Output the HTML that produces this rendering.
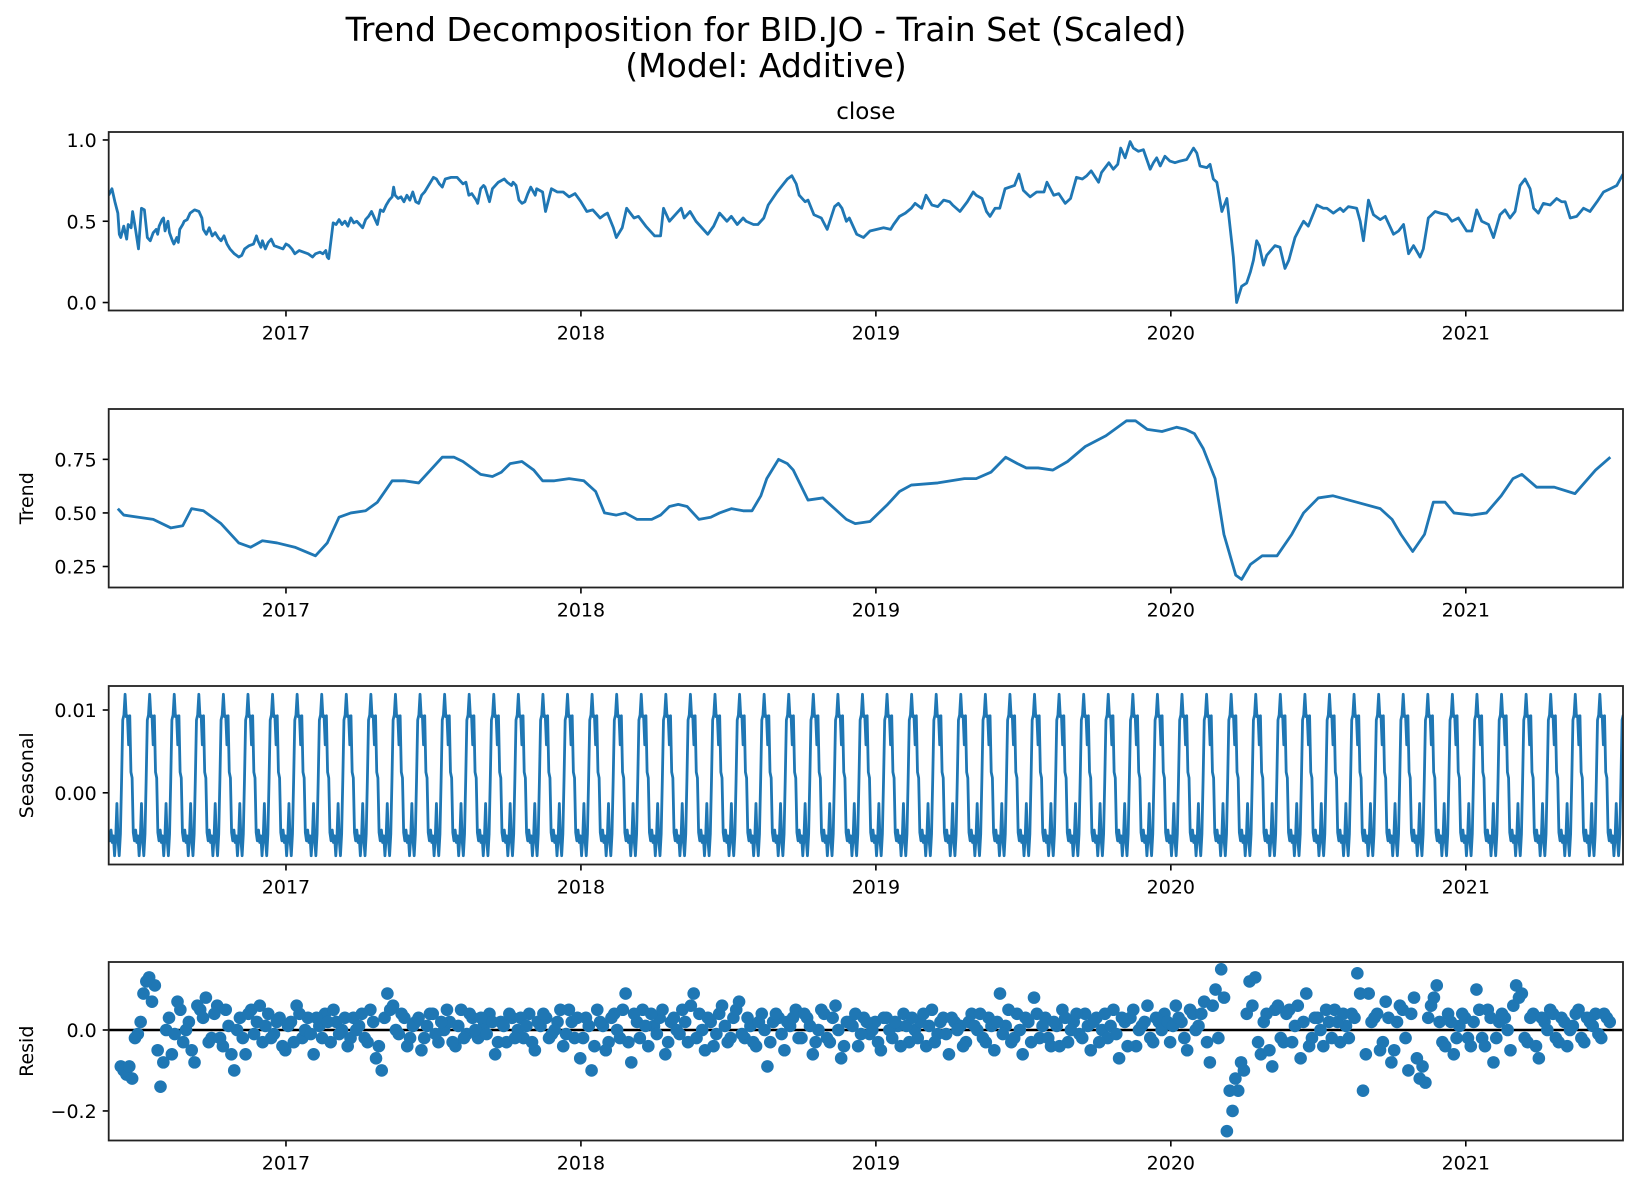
<!DOCTYPE html>
<html><head><meta charset="utf-8">
<style>
html,body{margin:0;padding:0;background:#fff;}
svg{display:block;font-family:"DejaVu Sans","Liberation Sans",sans-serif;}
</style></head>
<body>
<svg id="fig" width="1637" height="1191" viewBox="0 0 1637 1191" xmlns="http://www.w3.org/2000/svg">
<rect width="1637" height="1191" fill="#fff"/>
<text x="766" y="41" font-size="33" text-anchor="middle" fill="#000">Trend Decomposition for BID.JO - Train Set (Scaled)</text>
<text x="766" y="77" font-size="33" text-anchor="middle" fill="#000">(Model: Additive)</text>
<g id="plots"></g>
</svg>
<script>
// ---------- data ----------
const closeDates = [2016.399,2016.41,2016.42,2016.43,2016.435,2016.44,2016.45,2016.46,2016.465,2016.475,2016.48,2016.49,2016.50,2016.51,2016.52,2016.53,2016.54,2016.55,2016.56,2016.565,2016.57,2016.58,2016.585,2016.59,2016.60,2016.605,2016.615,2016.62,2016.63,2016.635,2016.64,2016.65,2016.655,2016.665,2016.675,2016.69,2016.705,2016.715,2016.72,2016.73,2016.74,2016.75,2016.76,2016.77,2016.78,2016.79,2016.80,2016.81,2016.825,2016.84,2016.85,2016.86,2016.875,2016.89,2016.90,2016.905,2016.915,2016.92,2016.93,2016.94,2016.95,2016.96,2016.975,2016.99,2017.00,2017.01,2017.02,2017.03,2017.045,2017.06,2017.075,2017.09,2017.10,2017.115,2017.125,2017.135,2017.14,2017.145,2017.16,2017.17,2017.18,2017.19,2017.20,2017.21,2017.22,2017.23,2017.24,2017.25,2017.26,2017.27,2017.28,2017.29,2017.30,2017.31,2017.32,2017.33,2017.34,2017.35,2017.36,2017.365,2017.37,2017.38,2017.39,2017.40,2017.41,2017.42,2017.43,2017.44,2017.45,2017.46,2017.47,2017.50,2017.51,2017.52,2017.53,2017.54,2017.56,2017.58,2017.59,2017.60,2017.61,2017.62,2017.63,2017.645,2017.65,2017.66,2017.67,2017.675,2017.69,2017.70,2017.71,2017.72,2017.74,2017.75,2017.765,2017.77,2017.78,2017.79,2017.80,2017.81,2017.82,2017.83,2017.845,2017.85,2017.87,2017.88,2017.90,2017.92,2017.94,2017.96,2017.98,2018.00,2018.02,2018.04,2018.065,2018.08,2018.09,2018.11,2018.12,2018.14,2018.155,2018.18,2018.195,2018.22,2018.25,2018.27,2018.28,2018.30,2018.325,2018.34,2018.35,2018.37,2018.39,2018.41,2018.43,2018.45,2018.47,2018.495,2018.51,2018.53,2018.55,2018.56,2018.585,2018.60,2018.62,2018.635,2018.65,2018.665,2018.70,2018.715,2018.73,2018.74,2018.76,2018.77,2018.79,2018.815,2018.835,2018.86,2018.873,2018.885,2018.90,2018.91,2018.935,2018.958,2018.98,2019.003,2019.026,2019.05,2019.06,2019.08,2019.10,2019.12,2019.133,2019.155,2019.17,2019.19,2019.21,2019.23,2019.25,2019.26,2019.285,2019.31,2019.33,2019.34,2019.36,2019.375,2019.387,2019.404,2019.42,2019.438,2019.47,2019.485,2019.50,2019.523,2019.545,2019.57,2019.58,2019.603,2019.62,2019.642,2019.66,2019.68,2019.70,2019.715,2019.73,2019.755,2019.765,2019.79,2019.805,2019.82,2019.83,2019.845,2019.862,2019.873,2019.89,2019.907,2019.93,2019.941,2019.952,2019.964,2019.98,2019.997,2020.014,2020.031,2020.054,2020.077,2020.088,2020.099,2020.122,2020.133,2020.144,2020.156,2020.173,2020.19,2020.195,2020.206,2020.212,2020.223,2020.24,2020.257,2020.27,2020.28,2020.291,2020.30,2020.314,2020.325,2020.353,2020.37,2020.387,2020.40,2020.421,2020.438,2020.45,2020.466,2020.495,2020.517,2020.529,2020.551,2020.574,2020.585,2020.602,2020.63,2020.642,2020.653,2020.67,2020.687,2020.71,2020.727,2020.755,2020.772,2020.789,2020.806,2020.823,2020.845,2020.856,2020.873,2020.896,2020.913,2020.936,2020.953,2020.975,2021.003,2021.02,2021.037,2021.054,2021.077,2021.094,2021.116,2021.133,2021.15,2021.167,2021.184,2021.201,2021.218,2021.23,2021.246,2021.263,2021.286,2021.308,2021.325,2021.337,2021.354,2021.376,2021.399,2021.421,2021.445,2021.467,2021.49,2021.512,2021.533];
const closeValues = [0.66,0.70,0.62,0.55,0.42,0.40,0.47,0.39,0.48,0.46,0.56,0.45,0.33,0.58,0.57,0.40,0.38,0.43,0.45,0.42,0.47,0.51,0.52,0.44,0.50,0.43,0.38,0.36,0.40,0.37,0.45,0.48,0.50,0.51,0.55,0.57,0.56,0.52,0.45,0.42,0.46,0.41,0.43,0.40,0.38,0.41,0.36,0.33,0.30,0.28,0.29,0.33,0.35,0.36,0.41,0.38,0.34,0.38,0.33,0.37,0.39,0.35,0.34,0.33,0.36,0.35,0.33,0.30,0.32,0.31,0.30,0.28,0.30,0.31,0.30,0.32,0.28,0.27,0.49,0.48,0.51,0.48,0.50,0.47,0.52,0.49,0.50,0.48,0.46,0.51,0.53,0.56,0.52,0.48,0.57,0.56,0.60,0.63,0.65,0.71,0.66,0.64,0.65,0.62,0.66,0.63,0.68,0.62,0.61,0.66,0.68,0.77,0.76,0.73,0.71,0.76,0.77,0.77,0.75,0.73,0.74,0.66,0.67,0.63,0.61,0.70,0.72,0.71,0.62,0.70,0.72,0.74,0.76,0.74,0.72,0.74,0.72,0.63,0.61,0.62,0.67,0.71,0.66,0.70,0.68,0.56,0.70,0.68,0.68,0.65,0.67,0.62,0.56,0.57,0.52,0.54,0.55,0.46,0.40,0.46,0.58,0.52,0.53,0.47,0.41,0.41,0.58,0.50,0.55,0.58,0.52,0.56,0.50,0.46,0.42,0.47,0.55,0.50,0.53,0.48,0.52,0.50,0.48,0.48,0.52,0.60,0.64,0.68,0.76,0.78,0.73,0.66,0.62,0.63,0.54,0.52,0.45,0.59,0.61,0.58,0.50,0.52,0.42,0.40,0.44,0.45,0.46,0.45,0.48,0.53,0.55,0.58,0.61,0.58,0.66,0.60,0.59,0.63,0.62,0.60,0.56,0.62,0.68,0.66,0.64,0.56,0.53,0.58,0.58,0.70,0.72,0.79,0.69,0.65,0.68,0.68,0.74,0.66,0.67,0.61,0.64,0.77,0.76,0.78,0.81,0.74,0.80,0.86,0.82,0.85,0.95,0.89,0.99,0.95,0.93,0.94,0.82,0.86,0.89,0.84,0.90,0.87,0.86,0.87,0.88,0.95,0.92,0.84,0.83,0.85,0.76,0.74,0.56,0.64,0.56,0.38,0.28,0.00,0.10,0.12,0.19,0.26,0.38,0.35,0.23,0.29,0.35,0.34,0.21,0.26,0.40,0.46,0.50,0.47,0.60,0.58,0.58,0.55,0.58,0.56,0.59,0.58,0.50,0.38,0.63,0.54,0.51,0.53,0.42,0.44,0.48,0.30,0.35,0.28,0.33,0.52,0.56,0.55,0.54,0.50,0.52,0.44,0.44,0.57,0.50,0.48,0.40,0.54,0.57,0.52,0.56,0.72,0.76,0.70,0.58,0.55,0.61,0.60,0.64,0.62,0.62,0.52,0.53,0.58,0.56,0.62,0.68,0.70,0.72,0.79,0.86];

const trendDates = [2016.43,2016.45,2016.50,2016.55,2016.61,2016.65,2016.68,2016.72,2016.78,2016.84,2016.88,2016.92,2016.97,2017.03,2017.10,2017.14,2017.18,2017.22,2017.27,2017.31,2017.36,2017.40,2017.45,2017.49,2017.53,2017.57,2017.60,2017.66,2017.70,2017.73,2017.76,2017.80,2017.84,2017.87,2017.91,2017.96,2018.01,2018.05,2018.08,2018.12,2018.15,2018.19,2018.24,2018.27,2018.30,2018.33,2018.36,2018.40,2018.44,2018.47,2018.51,2018.55,2018.58,2018.61,2018.63,2018.67,2018.70,2018.72,2018.77,2018.82,2018.86,2018.90,2018.93,2018.98,2019.04,2019.08,2019.12,2019.21,2019.30,2019.34,2019.39,2019.44,2019.48,2019.51,2019.55,2019.60,2019.65,2019.71,2019.78,2019.85,2019.88,2019.92,2019.97,2020.02,2020.05,2020.08,2020.11,2020.15,2020.18,2020.22,2020.24,2020.27,2020.31,2020.36,2020.41,2020.45,2020.50,2020.55,2020.63,2020.71,2020.75,2020.78,2020.82,2020.86,2020.89,2020.93,2020.96,2021.02,2021.07,2021.12,2021.16,2021.19,2021.24,2021.30,2021.37,2021.44,2021.49];
const trendValues = [0.52,0.49,0.48,0.47,0.43,0.44,0.52,0.51,0.45,0.36,0.34,0.37,0.36,0.34,0.30,0.36,0.48,0.50,0.51,0.55,0.65,0.65,0.64,0.70,0.76,0.76,0.74,0.68,0.67,0.69,0.73,0.74,0.70,0.65,0.65,0.66,0.65,0.60,0.50,0.49,0.50,0.47,0.47,0.49,0.53,0.54,0.53,0.47,0.48,0.50,0.52,0.51,0.51,0.58,0.66,0.75,0.73,0.70,0.56,0.57,0.52,0.47,0.45,0.46,0.54,0.60,0.63,0.64,0.66,0.66,0.69,0.76,0.73,0.71,0.71,0.70,0.74,0.81,0.86,0.93,0.93,0.89,0.88,0.90,0.89,0.87,0.80,0.66,0.40,0.21,0.19,0.26,0.30,0.30,0.40,0.50,0.57,0.58,0.55,0.52,0.47,0.40,0.32,0.40,0.55,0.55,0.50,0.49,0.50,0.58,0.66,0.68,0.62,0.62,0.59,0.70,0.76];

// one seasonal cycle (21 business days), repeated through the series
const seasonalCycle = [0.0119,0.0092,0.0093,0.0058,0.0093,0.0025,0.0018,-0.0048,-0.0058,-0.0045,-0.0060,-0.0052,-0.0076,-0.0055,-0.0013,-0.0058,-0.0076,-0.0050,0.0015,0.0088,0.0094];
const seasonalStart = 2016.399;
const seasonalEnd = 2021.533;
const seasonalPhase = 7;

const residStart = 2016.44;
const residValues = [-0.09,-0.11,-0.12,-0.01,0.09,0.13,0.11,-0.14,0.00,-0.06,0.07,-0.03,0.02,-0.08,0.05,0.08,-0.02,0.06,-0.04,0.01,-0.10,0.03,-0.06,0.05,0.02,-0.03,0.04,-0.01,0.03,
-0.05,0.02,0.06,-0.02,0.03,-0.06,0.01,0.04,-0.03,0.02,0.00,-0.04,0.03,0.01,-0.02,0.05,-0.07,-0.10,0.09,0.06,-0.01,0.03,-0.02,0.02,-0.05,0.01,0.04,-0.03,0.00,0.02,-0.04,0.05,-0.01,0.03,-0.02,0.01,0.04,-0.06,0.02,-0.03,0.03,0.00,-0.02,0.04,-0.05,0.01,0.03,-0.01,0.02,-0.04,0.05,-0.02,
-0.07,0.03,-0.10,0.05,0.01,-0.03,0.04,-0.02,0.09,-0.08,0.02,0.05,-0.04,0.01,0.03,-0.06,0.02,0.00,0.05,-0.03,0.09,0.04,-0.05,0.02,-0.01,0.06,-0.03,0.03,0.07,-0.02,0.01,-0.04,0.04,-0.09,0.02,0.03,-0.05,0.01,0.05,-0.02,0.03,-0.06,0.00,0.04,-0.03,0.06,-0.07,0.02,0.01,-0.04,0.03,-0.01,
0.02,-0.05,0.03,-0.02,0.01,0.04,-0.03,0.00,0.02,-0.04,0.05,-0.01,0.03,-0.06,0.02,0.01,-0.03,0.04,0.00,-0.02,0.03,-0.05,0.09,0.01,-0.03,0.04,-0.06,0.02,0.08,-0.02,0.03,-0.04,0.01,0.05,-0.03,0.02,-0.01,0.04,-0.05,0.03,0.00,-0.02,0.05,-0.07,0.02,0.03,-0.04,0.01,0.06,-0.03,0.02,0.04,
-0.03,0.06,0.02,-0.05,0.04,0.01,0.07,-0.08,0.10,0.15,-0.25,-0.20,-0.15,-0.10,0.12,0.13,-0.06,0.04,-0.09,0.06,-0.03,0.05,0.01,-0.07,0.09,-0.02,0.03,-0.04,0.02,0.05,-0.03,0.01,0.04,0.14,-0.15,0.09,0.03,-0.05,0.07,-0.08,0.02,0.05,-0.10,0.08,-0.12,-0.13,0.06,0.11,-0.03,0.04,-0.06,0.01,
0.03,-0.04,0.10,-0.02,0.05,-0.08,0.02,0.03,-0.05,0.11,0.09,-0.03,0.04,-0.07,0.02,0.05,-0.02,0.03,-0.04,0.01,0.05,-0.03,0.02,0.04,-0.02,0.03];
// second set of residual observations, half a week later
const residValues2 = [-0.10,-0.09,-0.02,0.02,0.12,0.07,-0.05,-0.08,0.03,-0.01,0.05,0.00,-0.05,0.06,0.03,-0.03,0.04,-0.02,0.05,-0.06,0.00,-0.02,0.04,-0.01,0.06,0.01,-0.02,0.02,-0.04,
0.01,-0.03,0.04,0.00,-0.01,0.03,-0.02,0.02,0.05,-0.01,0.03,-0.02,0.00,0.04,-0.03,0.02,-0.04,0.03,0.05,0.00,0.04,-0.04,0.01,0.03,-0.02,0.04,-0.01,0.02,0.05,-0.03,0.01,-0.02,0.04,0.00,0.03,-0.01,0.02,-0.03,0.01,0.04,-0.02,0.03,0.01,-0.03,0.02,0.04,-0.02,0.00,0.05,-0.01,0.02,0.03,
-0.02,0.01,-0.04,0.02,-0.05,0.03,0.00,0.05,-0.03,0.04,-0.02,0.01,0.04,-0.01,0.05,-0.03,0.03,-0.01,0.02,0.06,-0.02,0.00,0.03,-0.04,0.04,0.01,-0.02,0.05,-0.01,0.03,-0.03,0.02,0.00,-0.03,0.04,-0.01,0.02,0.03,-0.02,0.04,0.01,-0.03,0.05,-0.02,0.03,0.00,-0.04,0.02,0.04,-0.01,0.02,0.00,
-0.03,0.03,0.00,0.02,-0.04,0.01,0.03,-0.02,0.04,0.01,-0.03,0.02,-0.01,0.03,0.00,-0.04,0.02,0.01,0.04,-0.03,0.01,0.02,-0.01,0.05,-0.02,0.00,0.03,-0.03,0.04,0.01,-0.02,0.02,-0.04,0.03,0.00,0.04,-0.02,0.01,0.02,-0.03,0.04,0.01,-0.01,0.03,-0.04,0.05,0.00,0.02,-0.02,0.03,0.00,0.02,
0.01,0.03,-0.02,0.05,0.00,0.04,-0.03,0.06,-0.02,0.08,-0.15,-0.12,-0.08,0.04,0.06,-0.03,0.02,-0.05,0.05,-0.02,0.04,-0.03,0.06,0.02,-0.04,0.03,0.00,0.05,-0.02,0.02,0.04,-0.02,0.03,0.09,-0.06,0.02,0.04,-0.03,0.03,-0.05,0.06,-0.02,0.04,-0.07,-0.09,0.03,0.08,0.02,-0.04,0.02,-0.02,0.04,
-0.02,0.02,0.05,-0.04,0.03,-0.02,0.04,0.00,0.06,0.08,-0.02,0.03,-0.04,0.03,0.00,0.04,-0.03,0.02,0.00,0.04,-0.02,0.03,0.01,-0.01,0.04,0.02];

const xTickYears = [2017,2018,2019,2020,2021];
const closeTicks = [0.0,0.5,1.0];
const closeTickLabels = ["0.0","0.5","1.0"];
const trendTicks = [0.25,0.50,0.75];
const trendTickLabels = ["0.25","0.50","0.75"];
const seasonalTicks = [0.00,0.01];
const seasonalTickLabels = ["0.00","0.01"];
const residTicks = [-0.2,0.0];
const residTickLabels = ["\u22120.2","0.0"];

// ---------- layout ----------
const NS = "http://www.w3.org/2000/svg";
const L = 108.7, R = 1623, H = 178.5;
const X0 = 2016.399, X1 = 2021.533;
const xs = v => L + (v - X0) / (X1 - X0) * (R - L);
const blue = "#1f77b4";
const root = document.getElementById("plots");

function mk(tag, attrs, parent) {
  const e = document.createElementNS(NS, tag);
  for (const k in attrs) e.setAttribute(k, attrs[k]);
  (parent || root).appendChild(e);
  return e;
}

function panel(name, top, ymin, ymax, ticks, tickLabels, ylabel, title) {
  const g = mk("g", {});
  
  
  const ys = v => top + H - (v - ymin) / (ymax - ymin) * H;
  const cp = mk("clipPath", {id: "clip-" + name}, g);
  mk("rect", {x: L, y: top, width: R - L, height: H}, cp);
  const plot = mk("g", {"clip-path": "url(#clip-" + name + ")"}, g);
  
  
  xTickYears.forEach(yr => {
    const x = xs(yr);
    const t = mk("line", {x1: x, x2: x, y1: top + H, y2: top + H + 6, stroke: "#000", "stroke-width": 1.6}, g);
    
    
    const lb = mk("text", {x: x, y: top + H + 29, "font-size": 19, "text-anchor": "middle", fill: "#000"}, g);
    
    
    lb.textContent = String(yr);
  });
  ticks.forEach((v, i) => {
    const y = ys(v);
    const t = mk("line", {x1: L - 6, x2: L, y1: y, y2: y, stroke: "#000", "stroke-width": 1.6}, g);
    
    
    const lb = mk("text", {x: L - 12, y: y + 7, "font-size": 19, "text-anchor": "end", fill: "#000"}, g);
    
    
    lb.textContent = tickLabels[i];
  });
  if (ylabel) {
    const cy = top + H / 2;
    const lb = mk("text", {x: 33, y: cy, "font-size": 19, "text-anchor": "middle", fill: "#000", transform: "rotate(-90 33 " + cy + ")"}, g);
    
    
    lb.textContent = ylabel;
  }
  if (title) {
    const lb = mk("text", {x: (L + R) / 2, y: top - 13, "font-size": 23, "text-anchor": "middle", fill: "#000"}, g);
    
    
    lb.textContent = title;
  }
  return {g, plot, ys, top};
}

function line(p, dates, vals, name) {
  let d = "";
  for (let i = 0; i < vals.length; i++) d += (i ? "L" : "M") + xs(dates[i]).toFixed(2) + " " + p.ys(vals[i]).toFixed(2);
  const path = mk("path", {d: d, fill: "none", stroke: blue, "stroke-width": 2.8, "stroke-linejoin": "round"}, p.plot);
  
  
}
function frame(p, name) {
  const r = mk("rect", {x: L, y: p.top, width: R - L, height: H, fill: "none", stroke: "#222", "stroke-width": 1.8}, p.g);
  
  
}

const p1 = panel("close", 132, -0.049, 1.049, closeTicks, closeTickLabels, null, "close");
line(p1, closeDates, closeValues, "close-line");
frame(p1, "close");

const p2 = panel("trend", 409, 0.152, 0.985, trendTicks, trendTickLabels, "Trend", null);
line(p2, trendDates, trendValues, "trend-line");
frame(p2, "trend");

const p3 = panel("seasonal", 686, -0.00866, 0.0129, seasonalTicks, seasonalTickLabels, "Seasonal", null);
const sDates = [], sVals = [];
const nS = Math.round((seasonalEnd - seasonalStart) * 252);
for (let i = 0; i <= nS; i++) {
  sDates.push(seasonalStart + i / 252);
  sVals.push(seasonalCycle[(i + seasonalPhase) % seasonalCycle.length]);
}
line(p3, sDates, sVals, "seasonal-line");
frame(p3, "seasonal");

const p4 = panel("resid", 962, -0.273, 0.168, residTicks, residTickLabels, "Resid", null);
const zl = mk("line", {x1: L, x2: R, y1: p4.ys(0), y2: p4.ys(0), stroke: "#000", "stroke-width": 2.5}, p4.plot);


residValues.forEach((v, i) => {
  const c = mk("circle", {cx: xs(residStart + i / 52), cy: p4.ys(v), r: 6.3, fill: blue}, p4.plot);
  
  
});
residValues2.forEach((v, i) => {
  const c = mk("circle", {cx: xs(residStart + (i + 0.5) / 52), cy: p4.ys(v), r: 6.3, fill: blue}, p4.plot);
  
  
});
frame(p4, "resid");
</script>
</body></html>
